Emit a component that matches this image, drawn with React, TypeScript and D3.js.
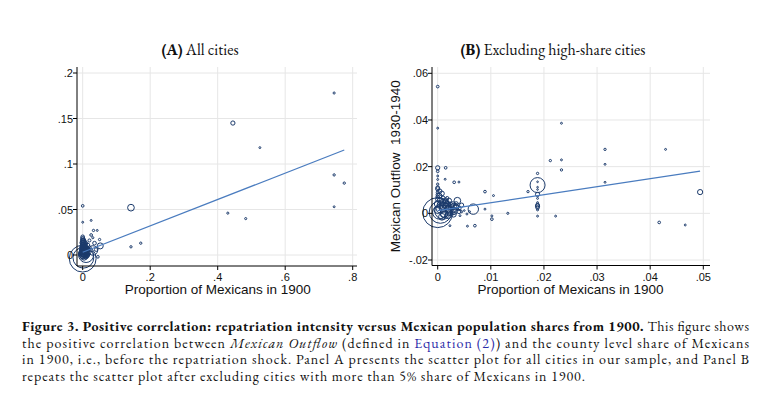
import React from 'react';
import * as d3 from 'd3';

// Panel A: all cities (x = share of Mexicans 1900, y = outflow, w = weight)
const citiesAX = [0.745, 0.445, 0.525, 0.745, 0.775, 0.745, 0.43, 0.483, 0.143, 0.143, 0.172, 0.0, 0.0, 0.025, 0.032, 0.043, 0.025, 0.03, 0.05, 0.052, 0.045, 0.04, 0.035, 0.02,
  0.0, 0.002, 0.01, 0.005, 0.03,
  0, 0, 0.002, 0, 0.003, 0.001, 0.004, 0.002, 0.006, 0.008, 0.001, 0.003, 0.005, 0.01, 0.012, 0.015, 0.007, 0.0, 0.002, 0.004, 0.009, 0.013, 0.018, 0.02, 0.016, 0.011, 0.006, 0.0, 0,
  0.001, 0.003, 0.005, 0.002, 0.004, 0.001, 0.006, 0.008, 0.0, 0.002, 0.004, 0.001, 0.003, 0.006, 0.010];
const citiesAY = [0.178, 0.145, 0.118, 0.088, 0.079, 0.053, 0.046, 0.040, 0.052, 0.009, 0.013, 0.054, 0.036, 0.038, 0.027, 0.027, 0.022, 0.019, 0.017, 0.010, -0.002, 0.006, 0.013, 0.016,
  -0.004, -0.003, 0.0, 0.003, 0.005,
  0.02, 0.018, 0.016, 0.014, 0.012, 0.010, 0.008, 0.006, 0.005, 0.003, 0.004, 0.002, 0.001, 0.002, 0.004, 0.006, 0.009, 0.001, 0.0, -0.002, -0.001, 0.0, 0.003, 0.008, 0.011, 0.013, 0.015, 0.008, 0.012,
  0.006, 0.004, 0.007, 0.009, 0.011, 0.013, 0.002, 0.006, 0.003, 0.002, 0.005, 0.016, 0.014, 0.010, 0.007];
const citiesAW = [0.5, 2, 0.4, 0.6, 0.6, 0.4, 0.5, 0.5, 5, 0.6, 0.6, 0.8, 0.4, 0.4, 0.6, 0.4, 0.8, 0.5, 0.6, 4, 0.8, 1.5, 1.5, 1,
  80, 48, 25, 12, 10,
  1.5, 2, 2, 3, 3, 4, 4, 5, 4, 5, 6, 6, 5, 3, 3, 2, 2, 8, 7, 5, 4, 3, 2, 1.5, 1.2, 1, 1, 3, 2,
  6, 6, 5, 5, 4, 4, 6, 4, 6, 7, 6, 3, 3, 3, 3];

// Panel B: cities with share below 5%
const citiesBX = [0, 0, 0.0233, 0.0233, 0.0212, 0.0233, 0.0315, 0.0315, 0.0315, 0.0429, 0.0417, 0.0466, 0.0494, 0.0222,
  0.0188, 0.0188, 0.0188, 0.0188, 0.0188, 0.0188, 0.0188, 0.0188, 0.0188, 0.0188, 0.0188, 0.0188, 0.0188,
  0.017, 0.0089, 0.0105, 0.0089, 0.0102, 0.0102, 0.0132, 0.007, 0.0056, 0.0067, 0.0037, 0.0031, 0.004, 0.0015, 0, 0.0014, 0.0023,
  0.0055, 0.006, 0.0045, 0.0042, 0.005,
  0, 0, 0, 0, 0, 0, 0, 0, 0, 0,
  0, 0.0005, 0.001, 0.0003,
  0.001, 0.002, 0.003, 0.0015, 0.0025, 0.0035, 0.004, 0.0045, 0.0005, 0.0012, 0.002, 0.0008, 0.003, 0.0022, 0.0028, 0.0035, 0.0, 0.001, 0.0018, 0.0025, 0.003,
  0.0005, 0.001, 0.0015, 0.002, 0.0005, 0.001, 0.0015, 0.0025, 0.0003, 0.0008, 0.0004, 0.0018, 0.0, 0.0012, 0.002, 0.003, 0.0035, 0.004];
const citiesBY = [0.0543, 0.0365, 0.0386, 0.0229, 0.0226, 0.0186, 0.0274, 0.021, 0.0133, 0.0274, -0.0039, -0.005, 0.0091, -0.0012,
  0.0171, 0.0121, 0.0135, 0.0112, 0.0102, 0.0081, 0.0064, 0.0046, 0.0036, 0.0031, 0.0025, 0.0015, -0.0012,
  0.0093, 0.0093, 0.0076, 0.0018, -0.0011, -0.0025, 0.0, -0.0053, -0.0055, 0.0018, 0.0054, 0.0133, 0.0134, 0.0195, 0.0195, 0.0146, -0.0053,
  -0.0003, 0.0007, 0.0007, -0.001, 0.0012,
  0.018, 0.016, 0.0145, 0.0125, 0.011, 0.0105, 0.009, 0.008, 0.007, 0.006,
  0.0003, 0.0005, 0.001, 0.0004,
  0.003, 0.002, 0.001, 0.0045, 0.0035, 0.0025, 0.002, 0.0035, 0.002, 0.0, -0.001, -0.0015, -0.0005, 0.0055, 0.004, 0.0042, 0.004, 0.0065, 0.0065, 0.0005, 0.003,
  0.0035, 0.0045, 0.003, 0.0015, 0.0055, 0.002, 0.0055, 0.0025, 0.0075, 0.0085, 0.0095, 0.004, 0.0015, -0.0005, 0.0005, 0.0015, 0.003, 0.0008];
const citiesBW = [0.8, 0.4, 0.4, 0.4, 0.6, 0.6, 0.6, 0.4, 0.4, 0.4, 0.8, 0.4, 3, 0.4,
  0.6, 25, 0.3, 0.3, 0.3, 2, 0.4, 0.4, 1.5, 2, 1.5, 0.5, 0.4,
  0.6, 0.8, 0.4, 0.4, 0.4, 0.8, 0.5, 0.8, 0.4, 12, 5, 0.8, 0.4, 0.8, 2, 0.4, 0.4,
  0.4, 0.4, 0.5, 0.4, 0.3,
  0.8, 0.4, 0.4, 0.6, 1.5, 2, 1, 1.2, 1.5, 2,
  100, 55, 30, 20,
  6, 5, 6, 4, 3, 3, 2, 2, 8, 7, 4, 5, 3, 2, 2.5, 1.5, 5, 2, 1.2, 5, 4,
  5, 5, 5, 5, 4, 6, 3, 4, 3, 2.5, 2, 4, 6, 5, 5, 3, 2.5, 2];

// fitted lines (endpoints of the linear fit)
const fitAX = [0, 0.775];
const fitAY = [0.003, 0.1154];
const fitBX = [0, 0.0494];
const fitBY = [0.00113, 0.0181];

const ticksAX = [0, 0.2, 0.4, 0.6, 0.8];
const ticksAXLabels = ['0', '.2', '.4', '.6', '.8'];
const ticksAY = [0, 0.05, 0.1, 0.15, 0.2];
const ticksAYLabels = ['0', '.05', '.1', '.15', '.2'];
const ticksBX = [0, 0.01, 0.02, 0.03, 0.04, 0.05];
const ticksBXLabels = ['0', '.01', '.02', '.03', '.04', '.05'];
const ticksBY = [-0.02, 0, 0.02, 0.04, 0.06];
const ticksBYLabels = ['-.02', '0', '.02', '.04', '.06'];

const MARK = '#1b3a6b';
const FIT = '#4a7cbf';
const GRID = '#e6e6e6';
const SANS = 'Arial, "Liberation Sans", sans-serif';
const SERIF = '"EB Garamond", "Liberation Serif", "Times New Roman", serif';

const rScale = d3.scaleSqrt().domain([0, 100]).range([0, 15]);

interface PanelProps {
  xs: number[]; ys: number[]; ws: number[];
  fx: number[]; fy: number[];
  xTicks: number[]; xLabels: string[];
  yTicks: number[]; yLabels: string[];
  xDomain: [number, number]; xRange: [number, number];
  yDomain: [number, number]; yRange: [number, number];
  left: number; right: number; top: number; bottom: number;
  title: string; letter: string; titleX: number;
  yTitle?: string;
}

const Panel: React.FC<PanelProps> = (p) => {
  const x = d3.scaleLinear().domain(p.xDomain).range(p.xRange);
  const y = d3.scaleLinear().domain(p.yDomain).range(p.yRange);
  const line = d3.line<number>().x(d => x(p.fx[d])).y(d => y(p.fy[d]));
  return (
    <g>
      <text x={p.titleX} y={55} textAnchor="middle" fontFamily={SERIF} fontSize={16} fill="#111">
        <tspan fontWeight="bold">{p.letter}</tspan> {p.title}
      </text>
      {p.xTicks.map(t => (
        <line key={'gx' + t} x1={x(t)} x2={x(t)} y1={p.top} y2={p.bottom} stroke={GRID} strokeWidth={1} />
      ))}
      {p.yTicks.map(t => (
        <line key={'gy' + t} x1={p.left} x2={p.right} y1={y(t)} y2={y(t)} stroke={GRID} strokeWidth={1} />
      ))}
      {p.xs.map((v, i) => (
        <circle key={'c' + i} cx={x(v)} cy={y(p.ys[i])} r={Math.max(0.8, rScale(p.ws[i]))}
          fill="none" stroke={MARK} strokeWidth={1} />
      ))}
      <path d={line([0, 1]) || ''} fill="none" stroke={FIT} strokeWidth={1.2} />
      <line x1={p.left} x2={p.left} y1={p.top} y2={p.bottom} stroke="#000" strokeWidth={1} />
      <line x1={p.left} x2={p.right} y1={p.bottom} y2={p.bottom} stroke="#000" strokeWidth={1} />
      {p.yTicks.map((t, i) => (
        <g key={'ty' + t}>
          <line x1={p.left - 4} x2={p.left} y1={y(t)} y2={y(t)} stroke="#000" />
          <text x={p.left - 4} y={y(t) + 4} textAnchor="end" fontFamily={SANS} fontSize={11} fill="#111">{p.yLabels[i]}</text>
        </g>
      ))}
      {p.xTicks.map((t, i) => (
        <g key={'tx' + t}>
          <line x1={x(t)} x2={x(t)} y1={p.bottom} y2={p.bottom + 4} stroke="#000" />
          <text x={x(t)} y={p.bottom + 15} textAnchor="middle" fontFamily={SANS} fontSize={11} fill="#111">{p.xLabels[i]}</text>
        </g>
      ))}
      <text x={(p.xRange[0] + p.xRange[1]) / 2} y={p.bottom + 28} textAnchor="middle" fontFamily={SANS} fontSize={13.5} fill="#111">
        Proportion of Mexicans in 1900
      </text>
      {p.yTitle && (
        <text transform={`translate(${p.left - 32},${(p.top + p.bottom) / 2})rotate(-90)`} textAnchor="middle"
          fontFamily={SANS} fontSize={13.5} fill="#111" style={{ whiteSpace: 'pre' }}>{p.yTitle}</text>
      )}
    </g>
  );
};

const App: React.FC = () => {
  return (
    <svg width={770} height={398} style={{ position: 'absolute', left: 0, top: 0, background: '#fff' }}>
      <Panel xs={citiesAX} ys={citiesAY} ws={citiesAW} fx={fitAX} fy={fitAY}
        xTicks={ticksAX} xLabels={ticksAXLabels} yTicks={ticksAY} yLabels={ticksAYLabels}
        xDomain={[0, 0.8]} xRange={[82.7, 352.7]} yDomain={[0, 0.2]} yRange={[255, 73]}
        left={77} right={357} top={67} bottom={266}
        letter="(A)" title="All cities" titleX={200} />
      <Panel xs={citiesBX} ys={citiesBY} ws={citiesBW} fx={fitBX} fy={fitBY}
        xTicks={ticksBX} xLabels={ticksBXLabels} yTicks={ticksBY} yLabels={ticksBYLabels}
        xDomain={[0, 0.05]} xRange={[437.7, 703.3]} yDomain={[-0.02, 0.06]} yRange={[260, 73.3]}
        left={432} right={710} top={67} bottom={265.5}
        letter="(B)" title="Excluding high-share cities" titleX={553}
        yTitle={'Mexican Outflow  1930-1940'} />
      <g fontFamily={SERIF} fontSize={14} fill="#111">
        <text x={22} y={331} textLength={727} lengthAdjust="spacing">
          <tspan fontWeight="bold">Figure 3. Positive correlation: repatriation intensity versus Mexican population shares from 1900.</tspan> This figure shows
        </text>
        <text x={22} y={347.5} textLength={727} lengthAdjust="spacing">
          the positive correlation between <tspan fontStyle="italic">Mexican Outflow</tspan> (defined in <tspan fill="#2b2ba8">Equation (2)</tspan>) and the county level share of Mexicans
        </text>
        <text x={22} y={364} textLength={727} lengthAdjust="spacing">
          in 1900, i.e., before the repatriation shock.  Panel A presents the scatter plot for all cities in our sample, and Panel B
        </text>
        <text x={22} y={380.5} textLength={563} lengthAdjust="spacing">
          repeats the scatter plot after excluding cities with more than 5% share of Mexicans in 1900.
        </text>
      </g>
    </svg>
  );
};

export default App;
